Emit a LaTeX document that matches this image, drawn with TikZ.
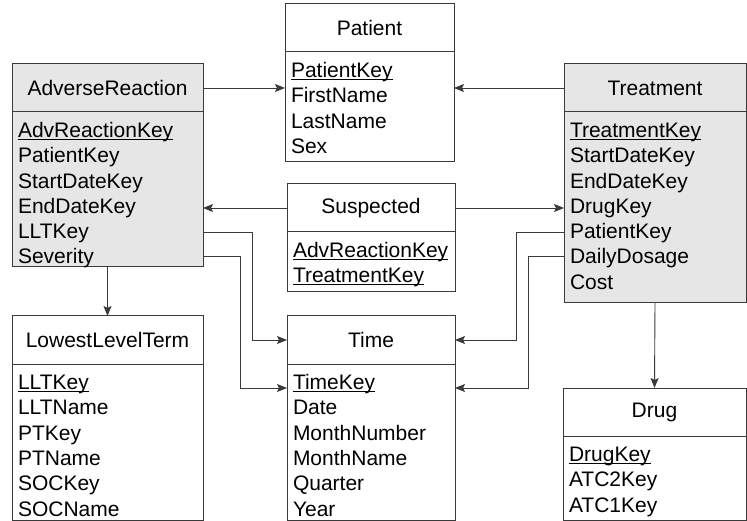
\documentclass[tikz,border=0pt]{standalone}
\usepackage{fontspec}
\setmainfont{Liberation Sans}
\usepackage{tikz}
\usetikzlibrary{arrows.meta}
\definecolor{tblgray}{HTML}{E6E6E6}
\definecolor{tblline}{HTML}{3A3A3A}
\newcommand{\ukey}[1]{\leavevmode\setbox0\hbox{#1}\rlap{\rule[-2.5pt]{\wd0}{0.9pt}}#1}

\begin{document}
\begin{tikzpicture}[x=1pt, y=-1pt,
  hdr/.style={draw=tblline, line width=1pt, anchor=north west, inner sep=0pt,
              outer sep=0pt, minimum height=48pt, text centered,
              font=\fontsize{21}{25}\selectfont},
  fields/.style 2 args={draw=tblline, line width=1pt, anchor=north west,
              inner xsep=6pt, inner ysep=0pt, outer sep=0pt,
              font=\fontsize{21}{25.3}\selectfont,
              execute at begin node={\begin{minipage}[c][#1][t]{#2}%
                \raggedright\rule{0pt}{25.5pt}\ignorespaces},
              execute at end node={\end{minipage}}},
  arr/.style={-{Stealth[length=10pt, width=8pt, inset=2pt]}, line width=0.9pt,
              color=tblline}
]
\useasboundingbox (0,0) rectangle (747,521);

% fact and dimension tables
\node[hdr, fill=tblgray, minimum width=191pt] (nadv) at (12,64) {AdverseReaction};
\node[fields={155pt}{179pt}, fill=tblgray] (nadvf) at (12,112)
  {\ukey{AdvReactionKey}\\PatientKey\\StartDateKey\\EndDateKey\\LLTKey\\Severity};

\node[hdr, minimum width=169pt] (npat) at (285,4) {Patient};
\node[fields={110pt}{157pt}] (npatf) at (285,52)
  {\ukey{PatientKey}\\FirstName\\LastName\\Sex};

\node[hdr, minimum width=168pt] (nsusp) at (287,184) {Suspected};
\node[fields={60pt}{156pt}] (nsuspf) at (287,232)
  {\ukey{AdvReactionKey}\\\ukey{TreatmentKey}};

\node[hdr, fill=tblgray, minimum width=182pt] (ntreat) at (564,64) {Treatment};
\node[fields={191pt}{170pt}, fill=tblgray] (ntreatf) at (564,112)
  {\ukey{TreatmentKey}\\StartDateKey\\EndDateKey\\DrugKey\\PatientKey\\DailyDosage\\Cost};

\node[hdr, minimum width=191pt] (nllt) at (12,316) {LowestLevelTerm};
\node[fields={156pt}{179pt}] (nlltf) at (12,364)
  {\ukey{LLTKey}\\LLTName\\PTKey\\PTName\\SOCKey\\SOCName};

\node[hdr, minimum width=168pt] (ntime) at (287,316) {Time};
\node[fields={156pt}{156pt}] (ntimef) at (287,364)
  {\ukey{TimeKey}\\Date\\MonthNumber\\MonthName\\Quarter\\Year};

\node[hdr, minimum width=183pt] (ndrug) at (563,388) {Drug};
\node[fields={84pt}{171pt}] (ndrugf) at (563,436)
  {\ukey{DrugKey}\\ATC2Key\\ATC1Key};

% references
\draw[arr] (nadv.east)   -- (npatf.west |- nadv.east);
\draw[arr] (ntreat.west) -- (npatf.east |- ntreat.west);
\draw[arr] (nsusp.west)  -- (nadvf.east |- nsusp.west);
\draw[arr] (nsusp.east)  -- (ntreatf.west |- nsusp.east);
\draw[arr] ([yshift=-42.5pt]nadvf.east) -- ++(49,0) |- (ntime.west);
\draw[arr] ([yshift=-66.5pt]nadvf.east) -- ++(37,0)
  |- ([yshift=-24pt]ntimef.north west);
\draw[arr] ([yshift=-24.5pt]ntreatf.west) -- ++(-48,0) |- (ntime.east);
\draw[arr] ([yshift=-48.5pt]ntreatf.west) -- ++(-36,0)
  |- ([yshift=-24pt]ntimef.north east);
\draw[arr] (nadvf.south)   -- (nllt.north);
\draw[arr] (ntreatf.south) -- (ndrug.north);
\end{tikzpicture}
\end{document}
